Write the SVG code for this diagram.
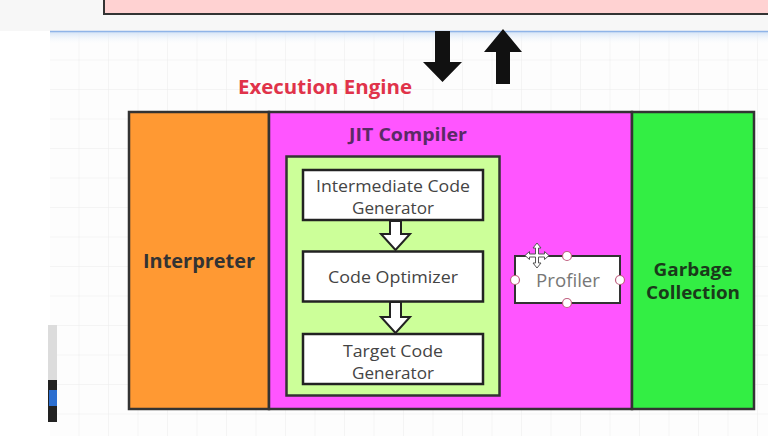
<svg xmlns="http://www.w3.org/2000/svg" width="768" height="436" viewBox="0 0 768 436">
<defs>
<pattern id="grid" x="50" y="31" width="29.5" height="29.5" patternUnits="userSpaceOnUse">
<path d="M29.5 0V29.5M0 29.5H29.5" fill="none" stroke="#ececec" stroke-width="1"/>
</pattern>
<linearGradient id="topline" x1="0" y1="0" x2="0" y2="1">
<stop offset="0" stop-color="#cfe0f5"/>
<stop offset="1" stop-color="#ffffff" stop-opacity="0"/>
</linearGradient>
</defs>
<style>
.frame{stroke:#333;stroke-width:2.5}
.box{fill:#fff;stroke:#222;stroke-width:2.5}
.bold{font-family:"Open Sans","Liberation Sans",sans-serif;font-weight:bold}
.reg{font-family:"Open Sans","Liberation Sans",sans-serif;fill:#444}
.hollow{fill:#fff;stroke:#222;stroke-width:2}
.handle{fill:#fff;stroke:#c06080;stroke-width:1.2}
</style>
<rect width="768" height="436" fill="#fff"/>
<rect x="0" y="0" width="768" height="31" fill="#f7f7f7"/>
<rect x="50" y="31" width="718" height="405" fill="#fdfdfd"/>
<rect x="50" y="31" width="718" height="405" fill="url(#grid)"/>
<rect x="50" y="31" width="718" height="14" fill="url(#topline)"/>
<line x1="50" y1="31.5" x2="768" y2="31.5" stroke="#8fb4e8" stroke-width="1.5"/>
<rect x="48" y="325" width="9" height="55" fill="#dcdcdc"/>
<rect x="48" y="380" width="9" height="42" fill="#222"/>
<rect x="49" y="390" width="8" height="16" fill="#2c6fd0"/>
<g id="top-box">
<rect x="104" y="-10" width="680" height="24" fill="#ffd2d2" stroke="#333" stroke-width="2"/>
</g>
<text x="325" y="94" class="bold" font-size="19" fill="#e0334a" text-anchor="middle" textLength="174" lengthAdjust="spacingAndGlyphs">Execution Engine</text>
<g id="interpreter">
<rect x="129" y="112" width="140" height="297" fill="#ff9933" class="frame"/>
<text x="199" y="268" class="bold" font-size="19" fill="#333" text-anchor="middle" textLength="112" lengthAdjust="spacingAndGlyphs">Interpreter</text>
</g>
<g id="jit-compiler">
<rect x="269" y="112" width="363" height="297" fill="#ff55ff" class="frame"/>
<text x="408" y="141" class="bold" font-size="18" fill="#5a2a66" text-anchor="middle" textLength="118" lengthAdjust="spacingAndGlyphs">JIT Compiler</text>
<rect x="286.5" y="156.5" width="213" height="239" fill="#ccff99" stroke="#333" stroke-width="2.5"/>
</g>
<g id="intermediate">
<rect x="303" y="170" width="180" height="50" class="box"/>
<text x="393" y="192" class="reg" font-size="16.5" text-anchor="middle" textLength="154" lengthAdjust="spacingAndGlyphs">Intermediate Code</text>
<text x="393" y="214" class="reg" font-size="16.5" text-anchor="middle" textLength="82" lengthAdjust="spacingAndGlyphs">Generator</text>
</g>
<g id="optimizer">
<rect x="303" y="251.5" width="180" height="50" class="box"/>
<text x="393" y="283" class="reg" font-size="16.5" text-anchor="middle" textLength="130" lengthAdjust="spacingAndGlyphs">Code Optimizer</text>
</g>
<g id="target">
<rect x="303" y="334" width="180" height="50" class="box"/>
<text x="393" y="357" class="reg" font-size="16.5" text-anchor="middle" textLength="100" lengthAdjust="spacingAndGlyphs">Target Code</text>
<text x="393" y="379" class="reg" font-size="16.5" text-anchor="middle" textLength="82" lengthAdjust="spacingAndGlyphs">Generator</text>
</g>
<g id="profiler">
<rect x="515" y="256" width="105" height="47" fill="#fff" stroke="#333" stroke-width="2"/>
<text x="568" y="287" font-family="Open Sans,Liberation Sans,sans-serif" font-size="18" fill="#777" text-anchor="middle" textLength="64" lengthAdjust="spacingAndGlyphs">Profiler</text>
<circle cx="567" cy="256" r="4.5" class="handle"/>
<circle cx="567" cy="303" r="4.5" class="handle"/>
<circle cx="515" cy="280" r="4.5" class="handle"/>
<circle cx="620" cy="280" r="4.5" class="handle"/>
<path d="M537 243L541 248H538.5V254H544.5V251.5L549 255.5L544.5 259.5V257H538.5V263H541L537 268L533 263H535.5V257H529.5V259.5L525 255.5L529.5 251.5V254H535.5V248H533Z" fill="#fff" stroke="#555" stroke-width="1"/>
</g>
<g id="garbage">
<rect x="632" y="112" width="122" height="297" fill="#33ee44" class="frame"/>
<text x="693" y="276" class="bold" font-size="18" fill="#1a3a1a" text-anchor="middle" textLength="79" lengthAdjust="spacingAndGlyphs">Garbage</text>
<text x="693" y="299" class="bold" font-size="18" fill="#1a3a1a" text-anchor="middle" textLength="94" lengthAdjust="spacingAndGlyphs">Collection</text>
</g>
<g id="connectors">
<path d="M435 31H450V62H462L442.5 82L423 62H435Z" fill="#111"/>
<path d="M496 84H510V52H522L503 29L484 52H496Z" fill="#111"/>
<path d="M390 221H401V234H410L395.5 250L381 234H390Z" class="hollow"/>
<path d="M390 302H401V317H410L395.5 333L381 317H390Z" class="hollow"/>
</g>
</svg>
